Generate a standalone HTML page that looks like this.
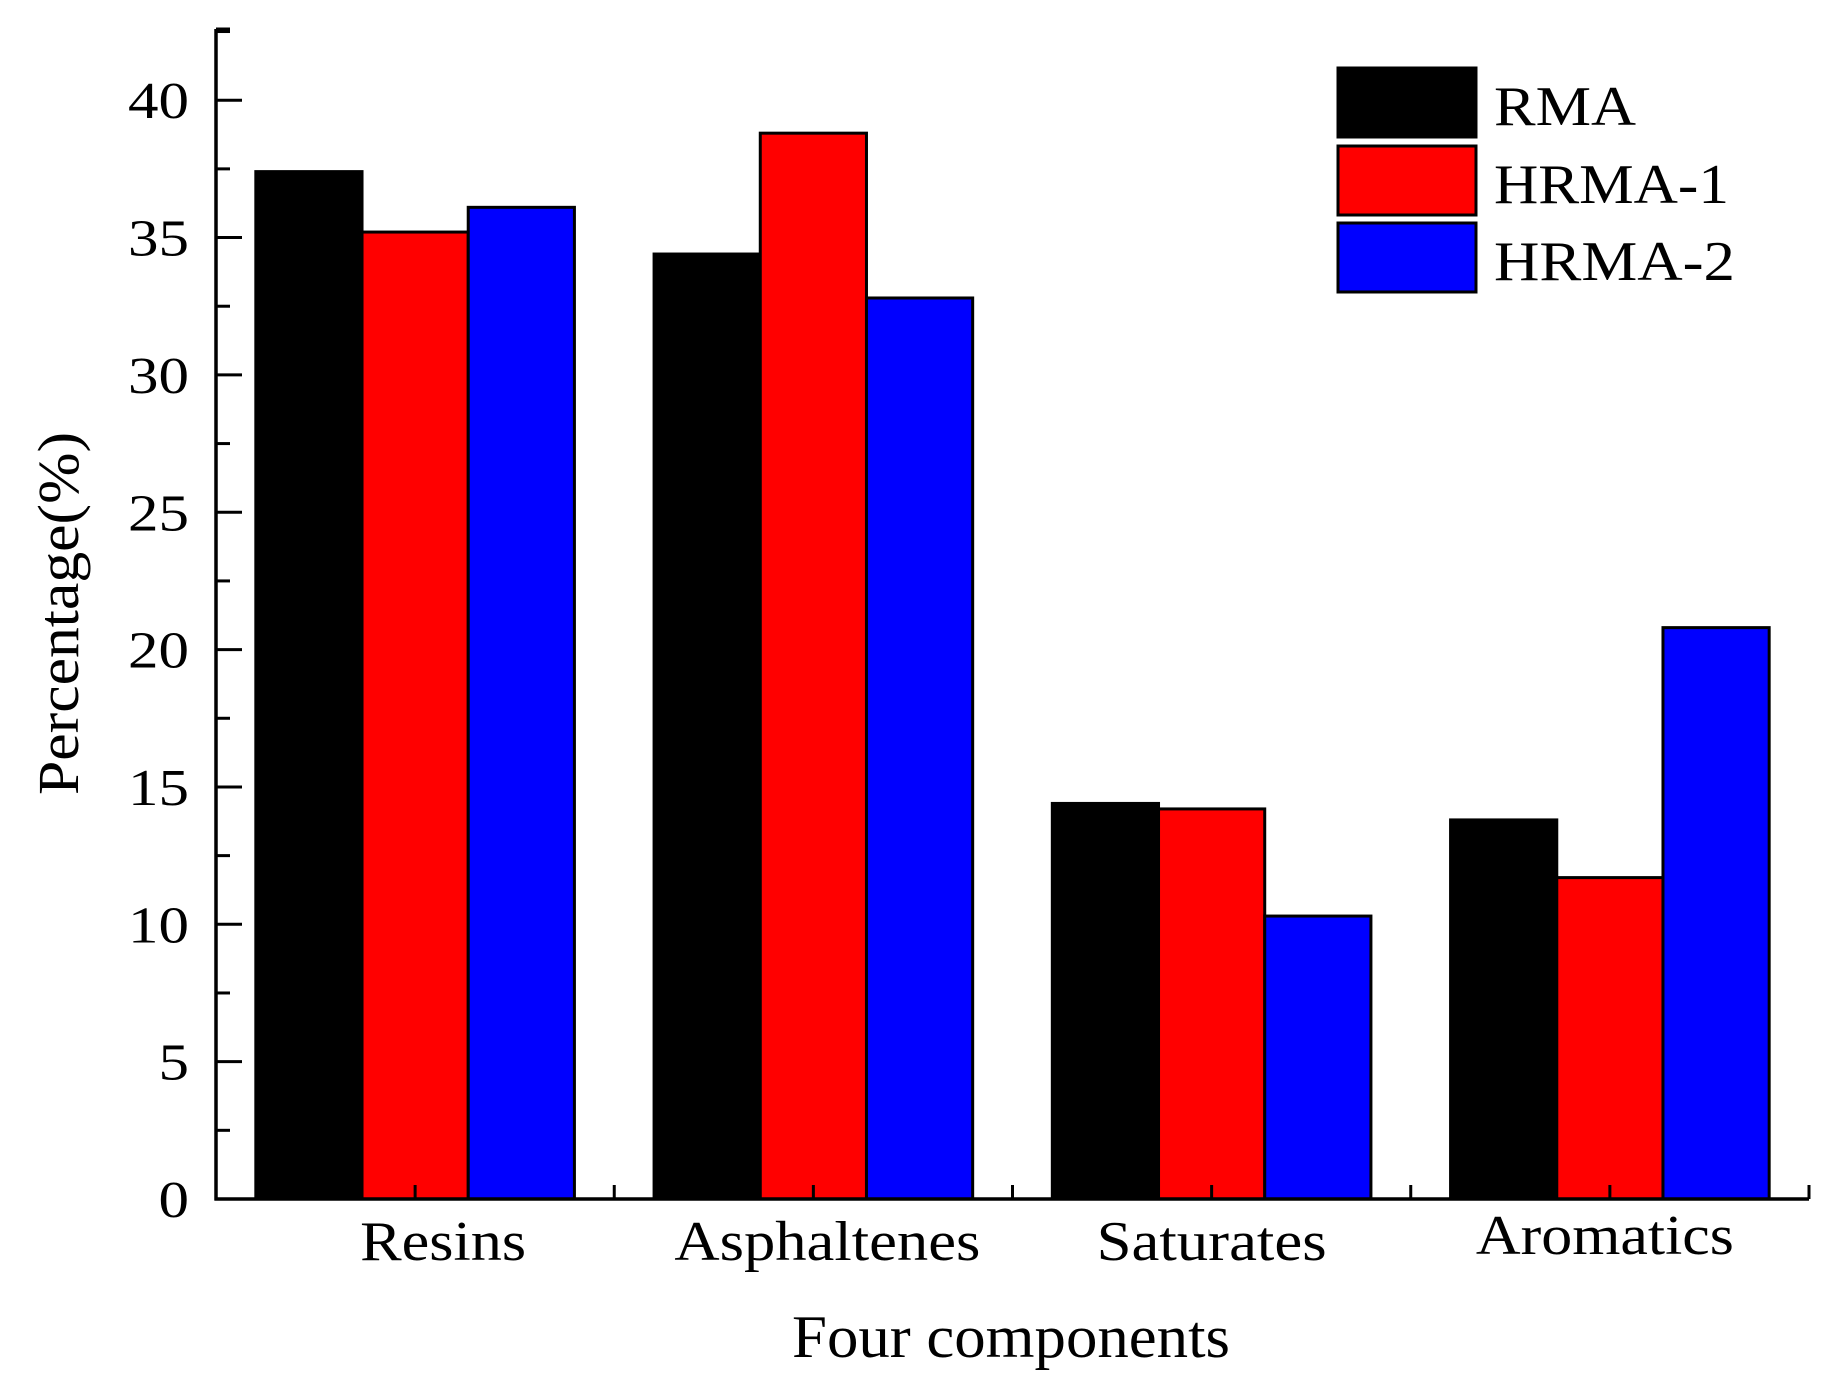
<!DOCTYPE html>
<html><head><meta charset="utf-8"><style>
html,body{margin:0;padding:0;background:#fff;}
svg{display:block;font-family:"Liberation Serif",serif;}
</style></head><body>
<svg id="chart" width="1838" height="1393" viewBox="0 0 1838 1393" xmlns="http://www.w3.org/2000/svg"></svg>
<script>
const categories = ["Resins","Asphaltenes","Saturates","Aromatics"];
const seriesNames = ["RMA","HRMA-1","HRMA-2"];
const rmaValues = [37.4, 34.4, 14.4, 13.8];
const hrma1Values = [35.2, 38.8, 14.2, 11.7];
const hrma2Values = [36.1, 32.8, 10.3, 20.8];
const yTickLabels = [0,5,10,15,20,25,30,35,40];

const colors = ["#000000","#ff0000","#0000ff"];
const series = [rmaValues, hrma1Values, hrma2Values];
const catLabelWidths = [166, 306, 230, 258];
const catLabelOffsets = [28, 14, 0, -5];
const legendWidths = [142, 235, 241];
const svg = document.getElementById('chart');
const NS = "http://www.w3.org/2000/svg";
const X0 = 216, X1 = 1809, Y0 = 1199, YTOP = 29;
const PPU = 27.47;
const band = (X1 - X0) / categories.length;
const barW = 106.2;
function yScale(v){ return Y0 - v * PPU; }
function xCenter(i){ return X0 + band * (i + 0.5); }
function mk(tag, attrs){ const e = document.createElementNS(NS, tag); for (const k in attrs) e.setAttribute(k, attrs[k]); svg.appendChild(e); return e; }

// bars
categories.forEach((c, i) => {
  series.forEach((vals, s) => {
    const x = xCenter(i) + (s - 1.5) * barW;
    const y = yScale(vals[i]);
    const r = mk('rect', {x: x, y: y, width: barW, height: Y0 - y, fill: colors[s], stroke: '#000', 'stroke-width': 3});
    
    
  });
});

// axes
const ya = mk('line', {x1: X0, y1: YTOP, x2: X0, y2: Y0 + 1.5, stroke: '#000', 'stroke-width': 3.5});


const xa = mk('line', {x1: X0 - 1.5, y1: Y0, x2: X1, y2: Y0, stroke: '#000', 'stroke-width': 3.5});



// y ticks
for (let v = 0; v <= 42.5; v += 2.5) {
  const major = (v % 5 === 0);
  const y = yScale(v);
  const t = mk('line', {x1: X0, y1: y, x2: X0 + (major ? 26 : 14), y2: y, stroke: '#000', 'stroke-width': 3});
  
  
}
mk('line', {x1: X0, y1: YTOP, x2: X0 + 14, y2: YTOP, stroke: '#000', 'stroke-width': 3});
yTickLabels.forEach(v => {
  const s = String(v);
  const w = s.length * 30.5;
  const t = mk('text', {x: 189 - w, y: yScale(v) + 18, 'font-size': 52, textLength: w, lengthAdjust: 'spacingAndGlyphs'});
  t.textContent = s;
  
  
});

// x ticks
for (let k = 0; k <= categories.length * 2; k++) {
  const x = X0 + band * k / 2;
  const t = mk('line', {x1: x, y1: Y0, x2: x, y2: Y0 - 14, stroke: '#000', 'stroke-width': 3});
  
  
}
categories.forEach((c, i) => {
  const w = catLabelWidths[i];
  const cx = xCenter(i) + catLabelOffsets[i];
  const t = mk('text', {x: cx - w / 2, y: i === 3 ? 1254 : 1260, 'font-size': 56, textLength: w, lengthAdjust: 'spacingAndGlyphs'});
  t.textContent = c;
  
  
});

// titles
const xt = mk('text', {x: 1011 - 219, y: 1357, 'font-size': 60, textLength: 438, lengthAdjust: 'spacingAndGlyphs'});
xt.textContent = 'Four components';


const yt = mk('text', {x: -181, y: 0, 'font-size': 58, textLength: 363, lengthAdjust: 'spacingAndGlyphs', transform: 'translate(78,614) rotate(-90)'});
yt.textContent = 'Percentage(%)';



// legend
const legY = [68, 146, 223];
seriesNames.forEach((n, s) => {
  const r = mk('rect', {x: 1338, y: legY[s], width: 138, height: 69, fill: colors[s], stroke: '#000', 'stroke-width': 3});
  
  
  const t = mk('text', {x: 1494, y: legY[s] + 57, 'font-size': 56, textLength: legendWidths[s], lengthAdjust: 'spacingAndGlyphs'});
  t.textContent = n;
  
  
});
</script>
</body></html>
